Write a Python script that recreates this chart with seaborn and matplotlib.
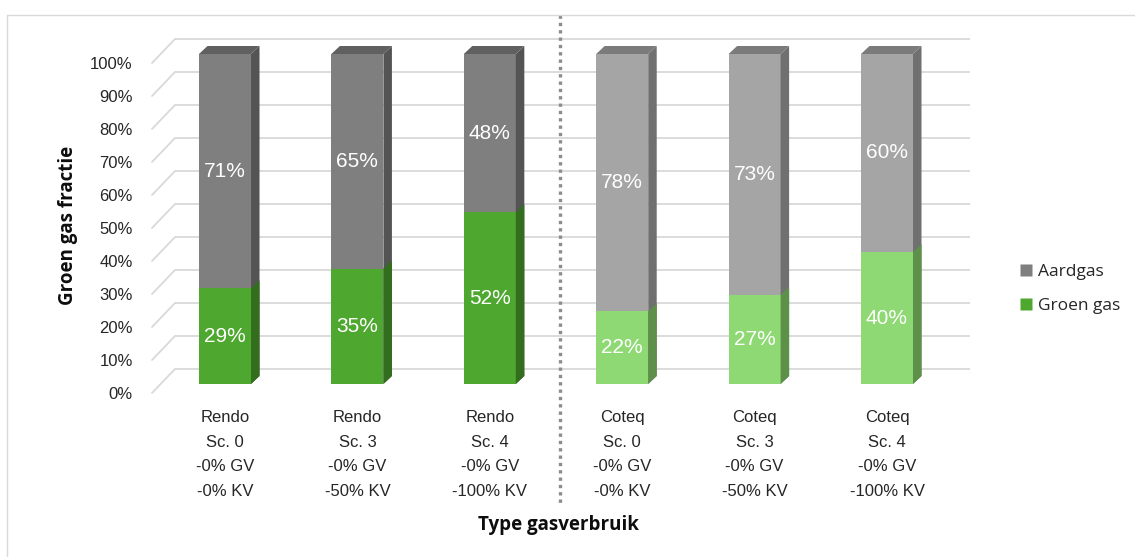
import matplotlib
matplotlib.use("Agg")
import matplotlib.pyplot as plt
import numpy as np
import pandas as pd
import seaborn as sns
from matplotlib.patches import Polygon
from matplotlib.lines import Line2D
from matplotlib.transforms import ScaledTranslation

# ---- data ----
leveranciers = ["Rendo", "Rendo", "Rendo", "Coteq", "Coteq", "Coteq"]
scenarios = ["Sc. 0", "Sc. 3", "Sc. 4", "Sc. 0", "Sc. 3", "Sc. 4"]
gv_reductie = ["-0% GV", "-0% GV", "-0% GV", "-0% GV", "-0% GV", "-0% GV"]
kv_reductie = ["-0% KV", "-50% KV", "-100% KV", "-0% KV", "-50% KV", "-100% KV"]
groen_gas = [29, 35, 52, 22, 27, 40]
aardgas = [71, 65, 48, 78, 73, 60]
y_ticks = [0, 10, 20, 30, 40, 50, 60, 70, 80, 90, 100]

# ---- colours (front face, side face, top face) ----
aard_front = ["#7f7f7f"] * 3 + ["#a5a5a5"] * 3
aard_side = ["#545454"] * 3 + ["#707070"] * 3
aard_top = ["#606060"] * 3 + ["#7b7b7b"] * 3
groen_front = ["#4ea72e"] * 3 + ["#8ed973"] * 3
groen_side = ["#336e1f"] * 3 + ["#5d9149"] * 3

labels = [f"{l}\n{s}\n{g}\n{k}" for l, s, g, k in
          zip(leveranciers, scenarios, gv_reductie, kv_reductie)]
df = pd.DataFrame({
    "label": labels,
    "groen": groen_gas,
    "aard": aardgas,
})
df["totaal"] = df["groen"] + df["aard"]

sns.set_theme(style="white")
plt.rcParams["font.family"] = ["Liberation Sans", "DejaVu Sans"]

W, H = 1135, 557
fig = plt.figure(figsize=(W / 100, H / 100), dpi=100)
fig.patch.set_facecolor("white")

# axes box in pixels (left, top, right, bottom)
L, T, R, B = 150, 20, 975, 400
ax = fig.add_axes([L / W, 1 - B / H, (R - L) / W, (B - T) / H])
ax.set_facecolor("none")

# horizontal scale: 132.4 px per category, first category centred at x=225 px
px_per_cat = 132.4
px_per_pct = 3.3

# depth of the pseudo-3D bars
dx = 8.5 / px_per_cat
dy = 8.0 / px_per_pct

# stacked bars: total (aardgas on top) then groen gas from zero
sns.barplot(data=df, x="label", y="totaal", hue="label", palette=aard_front,
            width=0.393, saturation=1, legend=False, ax=ax, linewidth=0,
            zorder=2)
sns.barplot(data=df, x="label", y="groen", hue="label", palette=groen_front,
            width=0.393, saturation=1, legend=False, ax=ax, linewidth=0,
            zorder=3)

ax.set_xlim((L - 225) / px_per_cat, (R - 225) / px_per_cat)
ax.set_ylim((384 - B) / px_per_pct, (384 - T) / px_per_pct)

# back-wall gridlines and floor/wall diagonals
back_shift = 15 / px_per_pct
front_shift = -9 / px_per_pct
x_front = (152 - 225) / px_per_cat
x_back = (175 - 225) / px_per_cat
x_end = (970 - 225) / px_per_cat
for t in y_ticks:
    ax.plot([x_back, x_end], [t + back_shift] * 2, color="#d9d9d9", lw=1.3,
            zorder=0.5, solid_capstyle="butt")
    ax.plot([x_front, x_back], [t + front_shift, t + back_shift],
            color="#d9d9d9", lw=1.3, zorder=0.5)

bars = list(ax.patches)
tot_bars, green_bars = bars[:6], bars[6:]

def side_face(p, color, z):
    x1 = p.get_x() + p.get_width()
    y0 = p.get_y()
    y1 = y0 + p.get_height()
    ax.add_patch(Polygon([(x1, y0), (x1 + dx, y0 + dy), (x1 + dx, y1 + dy),
                          (x1, y1)], closed=True, facecolor=color,
                         edgecolor="none", zorder=z))

def top_face(p, color, z):
    x0 = p.get_x()
    x1 = x0 + p.get_width()
    y1 = p.get_y() + p.get_height()
    ax.add_patch(Polygon([(x0, y1), (x0 + dx, y1 + dy), (x1 + dx, y1 + dy),
                          (x1, y1)], closed=True, facecolor=color,
                         edgecolor="none", zorder=z))

for i, p in enumerate(tot_bars):
    side_face(p, aard_side[i], 2)
    top_face(p, aard_top[i], 2)
for i, p in enumerate(green_bars):
    side_face(p, groen_side[i], 3)

# value labels
for i, (g, a) in enumerate(zip(groen_gas, aardgas)):
    ax.text(i, g / 2, f"{g}%", color="white", ha="center", va="center",
            fontsize=15, zorder=5)
    ax.text(i, g + a / 2, f"{a}%", color="white", ha="center", va="center",
            fontsize=15, zorder=5)

# axes decoration
for s in ax.spines.values():
    s.set_visible(False)
ax.set_yticks(y_ticks)
ax.set_yticklabels([f"{t}%" for t in y_ticks], fontsize=12, color="#262626")
ax.tick_params(axis="y", length=0, pad=12.5)
shift = ScaledTranslation(0, -9 / 100, fig.dpi_scale_trans)
for tick in ax.yaxis.get_major_ticks():
    tick.label1.set_transform(tick.label1.get_transform() + shift)

ax.tick_params(axis="x", length=0, pad=7)
for lbl in ax.get_xticklabels():
    lbl.set_fontsize(12)
    lbl.set_color("#262626")
    lbl.set_linespacing(1.82)
ax.set_xlabel("")
ax.set_ylabel("")

fig.text(558 / W, 1 - 525 / H, "Type gasverbruik", ha="center", va="center",
         fontsize=13.5, fontweight="bold", family=["Open Sans", "DejaVu Sans"],
         color="#0d0d0d")
fig.text(68 / W, 1 - 225 / H, "Groen gas fractie", ha="center", va="center",
         rotation=90, fontsize=13.5, fontweight="bold",
         family=["Open Sans", "DejaVu Sans"], color="#0d0d0d")

# group separator between Rendo and Coteq
ax.axvline(2.5 + dx / 2, ymin=(B - 15) / (B - T), ymax=(B - 505) / (B - T),
           color="#8c8c8c", lw=2.4, linestyle=(0, (1, 1.2)), clip_on=False,
           zorder=1)

# legend
handles = [Line2D([], [], marker="s", linestyle="none", markersize=9,
                  markerfacecolor="#7f7f7f", markeredgecolor="none"),
           Line2D([], [], marker="s", linestyle="none", markersize=9,
                  markerfacecolor="#4ea72e", markeredgecolor="none")]
fig.legend(handles, ["Aardgas", "Groen gas"], loc="center left",
           bbox_to_anchor=(1003 / W, 1 - 289 / H), frameon=False,
           prop={"family": ["Open Sans", "DejaVu Sans"], "size": 12.5},
           handlelength=0.8, handletextpad=0.3, labelspacing=1.05,
           labelcolor="#262626")

# chart frame (top and left edges)
fig.add_artist(Line2D([7 / W, 1], [1 - 15 / H] * 2, color="#d9d9d9", lw=1,
                      transform=fig.transFigure))
fig.add_artist(Line2D([7 / W] * 2, [0, 1 - 15 / H], color="#d9d9d9", lw=1,
                      transform=fig.transFigure))

fig.savefig("out.png", dpi=100)
